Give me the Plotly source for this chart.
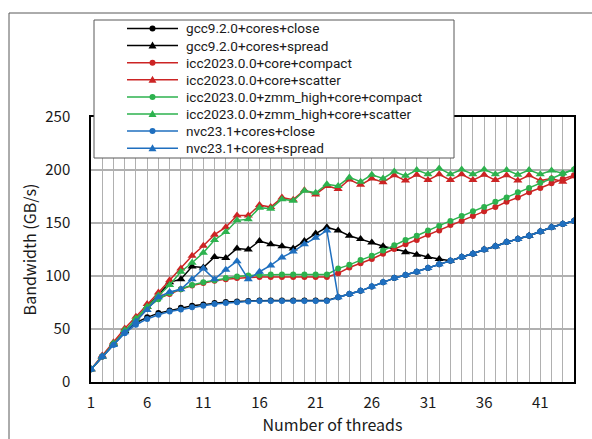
import plotly.graph_objects as go

threads = list(range(1, 45))

nvc_close = [12, 24, 35, 46, 54, 59.5, 63.5, 66.5, 68.5, 70.5, 72, 73.5, 74.5, 75.3, 76, 76.5, 76.5, 76.5, 76.5, 76.5, 76.5, 76.5,
             80, 83, 86, 90, 94, 98, 101, 104, 107.5, 111, 114.5, 118, 121, 125, 128, 132, 135, 138, 142, 146, 149, 152]
nvc_spread = [12, 24, 35, 47, 57, 68, 80, 85, 87.5, 97, 107, 97, 106, 114, 97, 104, 110, 117.5, 123, 130, 136, 143,
              80, 83, 86, 90, 94, 98, 101, 104, 107.5, 111, 114.5, 118, 121, 125, 128, 132, 135, 138, 142, 146, 149, 152]
gcc_close = [12, 24, 36, 47, 56, 61, 65, 67.5, 70, 72, 73, 74.5, 75.5, 76, 76.5, 77, 77, 77, 77, 77, 77, 77,
             80, 83, 86, 90, 94, 98, 101, 104, 107.5, 111, 114.5, 118, 121, 125, 128, 132, 135, 138, 142, 146, 149, 152]
gcc_spread = [12, 24, 36, 48, 59, 71, 82, 94, 97, 109, 108, 118, 117, 126, 125, 133, 130, 128, 126, 133, 140, 146,
              143, 138, 135, 131.5, 128, 125.5, 122.5, 120, 118, 116, 114.5, 118, 121, 125, 128, 132, 135, 138, 142, 146, 149, 152]
icc_compact = [12, 24, 36, 48, 59, 70, 79, 83, 87.5, 91, 93.5, 95.5, 97, 98, 98.5, 99, 99, 99, 99, 99, 99, 99,
               102.5, 108, 112, 116, 121, 125.5, 130, 134, 139, 143, 148, 152, 156.5, 161, 165, 170, 174, 179, 183, 187.5, 191.5, 195]
icc_scatter = [12, 25, 37.5, 50.5, 61.5, 73.5, 84.5, 96, 107, 119, 128.5, 139, 146, 157, 157, 167, 165, 174, 172, 181, 177, 185,
               182, 191, 186, 192, 188.5, 195, 190, 195.5, 190.5, 196, 190.5, 196, 190.5, 195.5, 190.5, 195, 190, 195, 190, 192, 189, 194]
zmm_compact = [12, 24, 36, 48, 59, 70, 78, 84, 87.5, 91.5, 94, 96, 98, 99.5, 100.5, 101, 101.5, 101.5, 101.5, 101.5, 101.5, 101.5,
               107, 110.5, 115, 119, 124, 129, 134, 138, 143, 147.5, 152, 156.5, 161, 165, 170, 174, 179, 183, 188, 192, 196.5, 200.5]
zmm_scatter = [12, 24, 36.5, 49, 60, 71, 81.5, 91.5, 104, 112.5, 122, 134, 141.5, 152.5, 153.5, 164.5, 163.5, 172.5, 171, 180.5, 178.5, 186.5,
               185, 193, 189, 195.5, 192, 198.5, 194.5, 200, 196, 201.5, 196, 200.5, 196, 200.5, 196, 200, 195.5, 200, 196, 199.5, 197, 200.5]

names = ["gcc9.2.0+cores+close", "gcc9.2.0+cores+spread",
         "icc2023.0.0+core+compact", "icc2023.0.0+core+scatter",
         "icc2023.0.0+zmm_high+core+compact", "icc2023.0.0+zmm_high+core+scatter",
         "nvc23.1+cores+close", "nvc23.1+cores+spread"]
series = [gcc_close, gcc_spread, icc_compact, icc_scatter, zmm_compact, zmm_scatter, nvc_close, nvc_spread]
colors = ["#000000", "#000000", "#CC2424", "#CC2424", "#2DB24E", "#2DB24E", "#1F6FBF", "#1F6FBF"]
symbols = ["circle", "triangle-up"] * 4

x_ticks = [1, 6, 11, 16, 21, 26, 31, 36, 41]
y_ticks = [0, 50, 100, 150, 200, 250]

FONT = "Noto Sans CJK JP"
LEG_FONT = "Roboto"
TXT = "#1a1a1a"

fig = go.Figure()
for name, ys, c, s in zip(names, series, colors, symbols):
    fig.add_trace(go.Scatter(
        x=threads, y=ys, name=name, mode="lines+markers",
        line=dict(color=c, width=1.5),
        marker=dict(symbol=s, size=6 if s == "circle" else 8, color=c, line=dict(width=0)),
        showlegend=False,
    ))

# plot-area pixel geometry
L, R, T, B = 91, 574, 117, 382
W_, H_ = R - L, B - T
def px(x):
    return (x - L) / W_
def py(y):
    return (B - y) / H_

shapes = []
# outer chart border
shapes.append(dict(type="rect", xref="paper", yref="paper",
                   x0=px(9), x1=px(640), y0=py(500), y1=py(13),
                   line=dict(color="#595959", width=1), fillcolor="rgba(0,0,0,0)", layer="below"))
# legend box
shapes.append(dict(type="rect", xref="paper", yref="paper",
                   x0=px(94), x1=px(454), y0=py(158), y1=py(20),
                   line=dict(color="#595959", width=1), fillcolor="white", layer="above"))
annotations = []
for i, (name, c, s) in enumerate(zip(names, colors, symbols)):
    cy = 28.5 + 17.1 * i
    shapes.append(dict(type="line", xref="paper", yref="paper",
                       x0=px(127), x1=px(178), y0=py(cy), y1=py(cy),
                       line=dict(color=c, width=1.5), layer="above"))
    cx = 152.5
    if s == "circle":
        shapes.append(dict(type="circle", xref="paper", yref="paper",
                           x0=px(cx - 3), x1=px(cx + 3), y0=py(cy + 3), y1=py(cy - 3),
                           fillcolor=c, line=dict(width=0), layer="above"))
    else:
        path = "M {:.5f},{:.5f} L {:.5f},{:.5f} L {:.5f},{:.5f} Z".format(
            px(cx), py(cy - 4), px(cx - 4), py(cy + 3), px(cx + 4), py(cy + 3))
        shapes.append(dict(type="path", xref="paper", yref="paper", path=path,
                           fillcolor=c, line=dict(width=0), layer="above"))
    annotations.append(dict(xref="paper", yref="paper", x=px(184), y=py(cy),
                            xanchor="left", yanchor="middle", showarrow=False,
                            text=name, font=dict(family=LEG_FONT, size=13.6, color=TXT)))

fig.update_layout(
    width=592, height=439,
    margin=dict(l=L, r=592 - R, t=T, b=439 - B),
    paper_bgcolor="white", plot_bgcolor="white",
    font=dict(family=FONT, color=TXT),
    shapes=shapes, annotations=annotations,
    showlegend=False,
)
fig.update_xaxes(
    range=[1, 44], tickmode="array", tickvals=threads,
    ticktext=[str(t) if t in x_ticks else "" for t in threads],
    showgrid=True, gridcolor="#b0b0b0", gridwidth=1,
    showline=True, linecolor="black", linewidth=1.5, mirror=True,
    ticks="", tickfont=dict(size=15, color=TXT), ticklabelstandoff=6,
    title=dict(text="Number of threads", font=dict(size=16, color=TXT), standoff=3),
    zeroline=False,
)
fig.update_yaxes(
    range=[0, 250], tickmode="array", tickvals=y_ticks,
    showgrid=True, gridcolor="#b0b0b0", gridwidth=1.5,
    showline=True, linecolor="black", linewidth=1.5, mirror=True,
    ticks="", tickfont=dict(size=15, color=TXT), ticklabelstandoff=16,
    title=dict(text="Bandwidth (GB/s)", font=dict(size=16, color=TXT), standoff=5),
    zeroline=False,
)

fig.write_html("out.html")
